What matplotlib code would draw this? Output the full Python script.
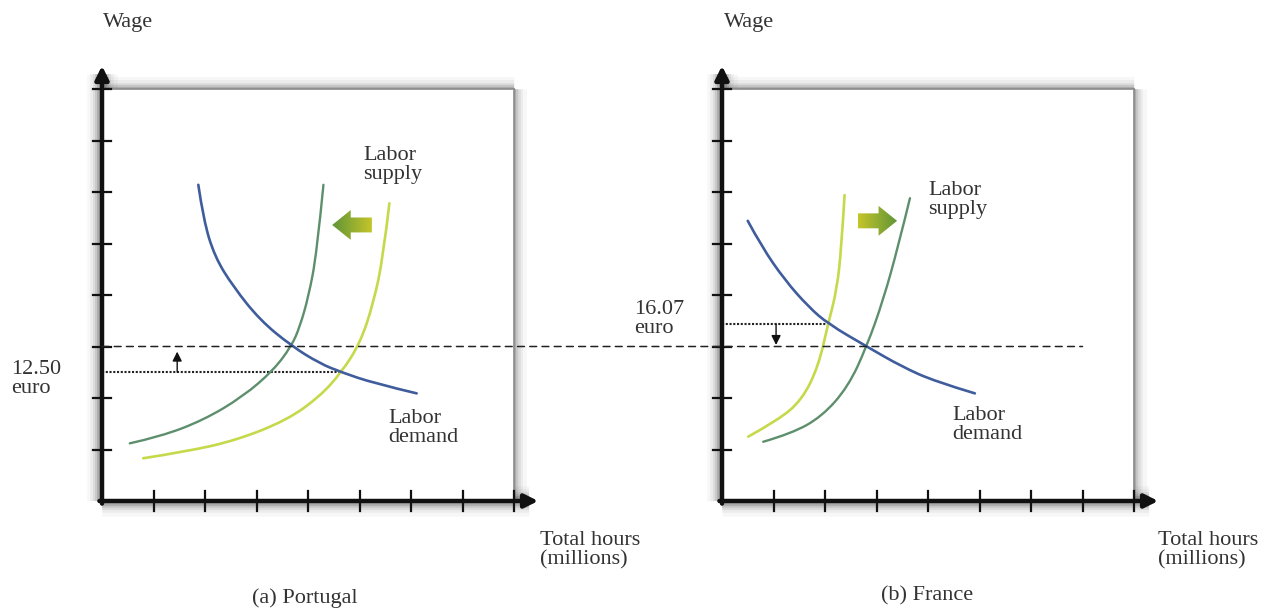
import numpy as np
import matplotlib
matplotlib.use("Agg")
import matplotlib.pyplot as plt
from matplotlib.patches import Rectangle, Polygon, ConnectionPatch, PathPatch
from matplotlib.path import Path
from matplotlib.colors import LinearSegmentedColormap

plt.rcParams['font.family'] = ['Liberation Serif', 'DejaVu Serif']

# ---------------- data (axis units) ----------------
ticks = [1, 2, 3, 4, 5, 6, 7, 8]

# (a) Portugal
pt_demand_x = [1.87, 1.97, 2.19, 2.55, 3.07, 3.68, 4.23, 4.65, 5.27, 6.11]
pt_demand_y = [6.14, 5.46, 4.74, 4.16, 3.51, 3.01, 2.67, 2.50, 2.29, 2.09]
pt_supply_new_x = [0.54, 1.13, 1.97, 2.74, 3.33, 3.68, 3.84, 4.01, 4.17, 4.30]
pt_supply_new_y = [1.12, 1.25, 1.57, 2.03, 2.54, 3.01, 3.38, 3.97, 4.81, 6.14]
pt_supply_old_x = [0.80, 1.64, 2.61, 3.59, 4.23, 4.65, 5.01, 5.27, 5.46, 5.58]
pt_supply_old_y = [0.83, 0.96, 1.18, 1.57, 2.03, 2.50, 3.06, 3.84, 4.74, 5.78]
pt_old_wage = 2.50
pt_old_hours = 4.65

# (b) France
fr_demand_x = [0.50, 0.77, 1.22, 1.68, 2.06, 2.81, 3.49, 4.14, 4.91]
fr_demand_y = [5.44, 4.94, 4.29, 3.77, 3.44, 3.00, 2.61, 2.32, 2.09]
fr_supply_old_x = [0.51, 1.09, 1.55, 1.87, 2.06, 2.23, 2.32, 2.38]
fr_supply_old_y = [1.25, 1.57, 1.96, 2.61, 3.44, 4.10, 4.94, 5.94]
fr_supply_new_x = [0.80, 1.35, 1.94, 2.45, 2.81, 3.13, 3.42, 3.65]
fr_supply_new_y = [1.15, 1.31, 1.64, 2.22, 3.00, 3.90, 4.94, 5.88]
fr_old_wage = 3.44
fr_old_hours = 2.06

common_wage = 3.0          # dashed line, common equilibrium wage
common_line_end = 7.0      # dashed line end in panel (b)

# shift arrows: (tail x, tip x, y)
pt_shift_arrow = (5.24, 4.47, 5.36)
fr_shift_arrow = (2.64, 3.40, 5.44)
# small wage-move arrows: (x, from y, to y)
pt_wage_arrow = (1.46, pt_old_wage, 2.90)
fr_wage_arrow = (1.05, fr_old_wage, 3.03)

# ---------------- style ----------------
W, H = 1267, 611
U = 51.5
C_BLUE = '#3f5d9c'
C_DGREEN = '#5d8f6c'
C_YGREEN = '#c5d94a'
C_TEXT = '#333333'
ARROW_GREEN = '#5f9438'
ARROW_YELLOW = '#c4c52a'
FS = 16

fig = plt.figure(figsize=(W / 100, H / 100), dpi=100)
fig.patch.set_facecolor('white')

LO, HI = -1.5, 9.5


def make_ax(ox, oy):
    x0 = ox + LO * U
    ax = fig.add_axes([x0 / W, (H - (oy - LO * U)) / H, (HI - LO) * U / W, (HI - LO) * U / H])
    ax.set_xlim(LO, HI)
    ax.set_ylim(LO, HI)
    ax.axis('off')
    ax.patch.set_visible(False)
    return ax


def smooth_curve(ax, xs, ys, color, lw):
    """Quadratic B-spline style path through the read points (drawn by matplotlib)."""
    pts = list(zip(xs, ys))
    verts = [pts[0]]
    codes = [Path.MOVETO]
    n = len(pts)
    for i in range(1, n - 1):
        verts.append(pts[i])
        if i < n - 2:
            verts.append(((pts[i][0] + pts[i + 1][0]) / 2, (pts[i][1] + pts[i + 1][1]) / 2))
        else:
            verts.append(pts[n - 1])
        codes += [Path.CURVE3, Path.CURVE3]
    ax.add_patch(PathPatch(Path(verts, codes), facecolor='none', edgecolor=color,
                           lw=lw, zorder=3, capstyle='round'))


def draw_frame(ax):
    # soft shadows
    for lw, a in [(18, 0.04), (13, 0.06), (9, 0.09), (6, 0.13), (3, 0.22)]:
        ax.plot([0, 8], [8, 8], color='#444444', lw=lw, alpha=a, zorder=0,
                solid_capstyle='butt')
        ax.plot([8, 8], [0, 8], color='#444444', lw=lw, alpha=a, zorder=0,
                solid_capstyle='butt')
        ax.plot([0, 0], [0, 8.3], color='#444444', lw=lw + 4, alpha=a, zorder=0,
                solid_capstyle='butt')
        ax.plot([0, 8.3], [0, 0], color='#444444', lw=lw + 4, alpha=a, zorder=0,
                solid_capstyle='butt')
    ax.add_patch(Rectangle((0, 0), 8, 8, facecolor='white', edgecolor='none', zorder=1))
    ax.plot([0, 8], [8, 8], color='#8a8a8a', lw=1.2, zorder=1.5)
    ax.plot([8, 8], [0, 8], color='#8a8a8a', lw=1.2, zorder=1.5)
    # axes with arrows
    ax.annotate('', xy=(0, 8.45), xytext=(0, -0.05),
                arrowprops=dict(arrowstyle='-|>', lw=3.2, color='#111111',
                                mutation_scale=20, shrinkA=0, shrinkB=0), zorder=5)
    ax.annotate('', xy=(8.47, 0), xytext=(-0.05, 0),
                arrowprops=dict(arrowstyle='-|>', lw=3.2, color='#111111',
                                mutation_scale=20, shrinkA=0, shrinkB=0), zorder=5)
    for t in ticks:
        ax.plot([-0.18, 0.18], [t, t], color='#111111', lw=1.6, zorder=5)
        ax.plot([t, t], [-0.19, 0.19], color='#111111', lw=1.6, zorder=5)


def gradient_arrow(ax, tail, tip, y, c_tail, c_tip):
    direction = np.sign(tip - tail)
    hl, hh, bh = 0.36, 0.29, 0.145
    hx = tip - direction * hl
    verts = [(tip, y), (hx, y + hh), (hx, y + bh), (tail, y + bh),
             (tail, y - bh), (hx, y - bh), (hx, y - hh)]
    poly = Polygon(verts, closed=True, facecolor='none', edgecolor='none',
                   transform=ax.transData)
    ax.add_patch(poly)
    xl, xr = min(tail, tip), max(tail, tip)
    if tail < tip:
        cmap = LinearSegmentedColormap.from_list('g', [c_tail, c_tip])
    else:
        cmap = LinearSegmentedColormap.from_list('g', [c_tip, c_tail])
    im = ax.imshow(np.linspace(0, 1, 256).reshape(1, -1), cmap=cmap,
                   extent=(xl, xr, y - hh, y + hh), aspect='auto', zorder=4,
                   interpolation='bilinear')
    im.set_clip_path(poly)
    ax.set_xlim(LO, HI)
    ax.set_ylim(LO, HI)


def small_arrow(ax, x, y0, y1):
    ax.annotate('', xy=(x, y1), xytext=(x, y0),
                arrowprops=dict(arrowstyle='-|>', lw=1.0, color='#111111',
                                mutation_scale=14, shrinkA=0, shrinkB=0), zorder=6)


# ---------------- panel (a) Portugal ----------------
ax1 = make_ax(102, 501)
draw_frame(ax1)
smooth_curve(ax1, pt_supply_old_x, pt_supply_old_y, C_YGREEN, 1.9)
smooth_curve(ax1, pt_supply_new_x, pt_supply_new_y, C_DGREEN, 1.7)
smooth_curve(ax1, pt_demand_x, pt_demand_y, C_BLUE, 1.9)
ax1.plot([0, pt_old_hours], [pt_old_wage, pt_old_wage], color='#222222', lw=1.5,
         linestyle=(0, (1, 0.8)), zorder=2)
small_arrow(ax1, *pt_wage_arrow)
gradient_arrow(ax1, pt_shift_arrow[0], pt_shift_arrow[1], pt_shift_arrow[2],
               ARROW_YELLOW, ARROW_GREEN)

# ---------------- panel (b) France ----------------
ax2 = make_ax(722, 501)
draw_frame(ax2)
smooth_curve(ax2, fr_supply_old_x, fr_supply_old_y, C_YGREEN, 1.9)
smooth_curve(ax2, fr_supply_new_x, fr_supply_new_y, C_DGREEN, 1.7)
smooth_curve(ax2, fr_demand_x, fr_demand_y, C_BLUE, 1.9)
ax2.plot([0, fr_old_hours], [fr_old_wage, fr_old_wage], color='#222222', lw=1.5,
         linestyle=(0, (1, 0.8)), zorder=2)
small_arrow(ax2, *fr_wage_arrow)
gradient_arrow(ax2, fr_shift_arrow[0], fr_shift_arrow[1], fr_shift_arrow[2],
               ARROW_YELLOW, ARROW_GREEN)

# common dashed wage line spanning both panels
con = ConnectionPatch(xyA=(0, common_wage), coordsA=ax1.transData,
                      xyB=(common_line_end, common_wage), coordsB=ax2.transData,
                      linestyle=(0, (4.5, 3.5)), lw=1.1, color='#222222', zorder=2.5)
fig.add_artist(con)


# ---------------- texts ----------------
def ftext(x, y, s, ha='left', va='center', **kw):
    fig.text(x / W, 1 - y / H, s, ha=ha, va=va, fontsize=FS, color=C_TEXT,
             linespacing=1.05, **kw)


ftext(103, 23, 'Wage')
ftext(724, 23, 'Wage')
ftext(363, 165, 'Labor\nsupply')
ftext(928, 200, 'Labor\nsupply')
ftext(388, 428, 'Labor\ndemand')
ftext(952, 425, 'Labor\ndemand')
ftext(11, 379, '12.50\neuro')
ftext(634, 319, '16.07\neuro', ha='left')
ftext(540, 550, 'Total hours\n(millions)')
ftext(1158, 550, 'Total hours\n(millions)')
ftext(305, 598, '(a) Portugal', ha='center')
ftext(927, 596, '(b) France', ha='center')

fig.savefig('out.png', dpi=100, facecolor='white')
